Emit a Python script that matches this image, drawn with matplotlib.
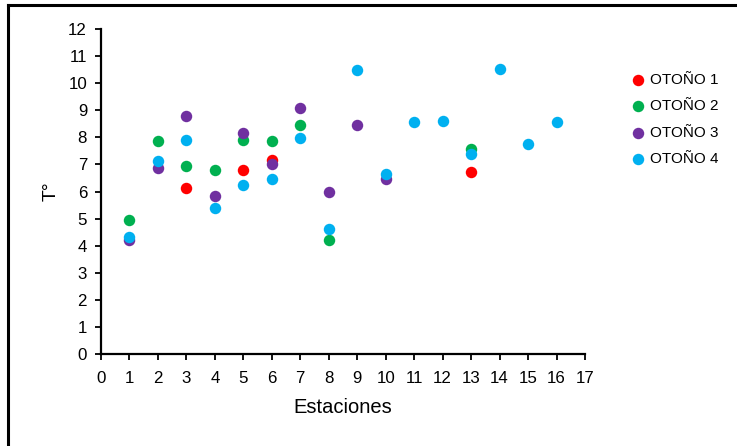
import numpy as np
import matplotlib
matplotlib.use("Agg")
import matplotlib.pyplot as plt
from matplotlib.lines import Line2D

plt.rcParams['font.family'] = ['Liberation Sans', 'DejaVu Sans']

# datos
est1 = [3, 5, 6, 13]
t1 = [6.13, 6.8, 7.17, 6.71]

est2 = [1, 2, 3, 4, 5, 6, 7, 8, 13]
t2 = [4.93, 7.85, 6.94, 6.8, 7.91, 7.85, 8.47, 4.21, 7.58]

est3 = [1, 2, 3, 4, 5, 6, 7, 8, 9, 10]
t3 = [4.2, 6.86, 8.8, 5.83, 8.16, 7.02, 9.09, 6.0, 8.44, 6.46]

est4 = [1, 2, 3, 4, 5, 6, 7, 8, 9, 10, 11, 12, 13, 14, 15, 16]
t4 = [4.32, 7.14, 7.89, 5.39, 6.24, 6.47, 7.97, 4.62, 10.47, 6.65, 8.55, 8.62,
      7.39, 10.51, 7.77, 8.58]

series = [("OTOÑO 1", est1, t1, "#ff0000"),
          ("OTOÑO 2", est2, t2, "#00b050"),
          ("OTOÑO 3", est3, t3, "#7030a0"),
          ("OTOÑO 4", est4, t4, "#00b0f0")]

W, H = 737, 446
fig = plt.figure(figsize=(W / 100, H / 100), dpi=100)
ax = fig.add_axes([101 / W, 1 - 354 / H, (585 - 101) / W, (354 - 29) / H])

for name, x, y, c in series:
    ax.scatter(x, y, s=68, color=c, label=name, linewidths=0, zorder=3)

ax.set_xlim(0, 17)
ax.set_ylim(0, 12)
ax.set_xticks(np.arange(0, 18))
ax.set_yticks(np.arange(0, 13))
for s in ["top", "right"]:
    ax.spines[s].set_visible(False)
for s in ["left", "bottom"]:
    ax.spines[s].set_linewidth(1.6)
ax.tick_params(direction="out", length=4, width=1.3, labelsize=12.2)
ax.tick_params(axis="x", pad=8)
ax.tick_params(axis="y", pad=6)
ax.set_xlabel("Estaciones", fontsize=14.5, labelpad=9)
ax.set_ylabel("T°", fontsize=14, labelpad=6)

leg = ax.legend(loc="upper left", bbox_to_anchor=(621 / W, 1 - 65 / H),
                bbox_transform=fig.transFigure, frameon=False, fontsize=11,
                handletextpad=0.2, labelspacing=0.82, markerscale=1.0,
                borderpad=0, handlelength=1.2)

# marco exterior (solo arriba e izquierda se ven)
fig.add_artist(Line2D([8 / W, 1], [1 - 5 / H, 1 - 5 / H], color="black", lw=2.2))
fig.add_artist(Line2D([8 / W, 8 / W], [0, 1 - 5 / H], color="black", lw=2.2))

fig.savefig("out.png", dpi=100)
